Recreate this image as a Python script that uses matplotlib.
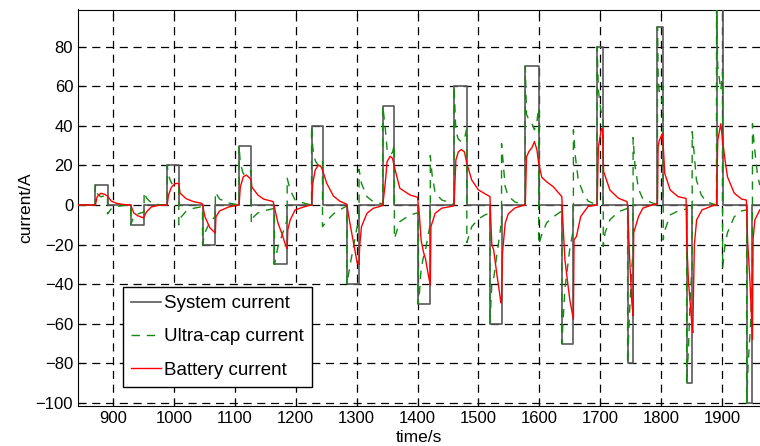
import numpy as np
from matplotlib import pyplot as plt

# load pulses of the system current: start (s), end (s), amplitude (A)
pulse_start = [871, 929, 989, 1047, 1107, 1165, 1226, 1284, 1343, 1401,
               1460, 1519, 1577, 1637, 1695, 1745, 1794, 1842, 1891, 1940.5]
pulse_end = [891, 951, 1008, 1068, 1127, 1186, 1244, 1304, 1362, 1421,
             1481, 1538, 1599, 1656, 1705, 1754, 1803, 1851, 1901, 1950]
pulse_amp = [10, -10, 20, -20, 30, -30, 40, -40, 50, -50,
             60, -60, 70, -70, 80, -80, 90, -90, 100, -100]

# battery current
batt_t = [842, 871, 874, 880, 886, 891, 897, 905, 914, 925,
          929, 934, 941, 950, 955, 963, 975, 989,
          991, 996, 1002, 1008, 1010, 1020, 1032, 1046,
          1047, 1051, 1059, 1068, 1069, 1075, 1090, 1107,
          1109, 1114, 1119, 1125, 1127, 1128, 1138, 1147, 1163,
          1166, 1171, 1177, 1184, 1186, 1187, 1191, 1199, 1215, 1226,
          1228, 1232, 1237, 1241, 1244, 1251, 1262, 1272, 1283,
          1284, 1289, 1295, 1301, 1304, 1305, 1308, 1317, 1327, 1341,
          1343, 1347, 1350, 1355, 1359, 1362, 1371, 1388, 1400,
          1403, 1406, 1410, 1413, 1417, 1421, 1422, 1429, 1440, 1459,
          1460, 1463, 1467, 1472, 1477, 1481, 1489, 1500, 1511, 1519,
          1520, 1522, 1525, 1530, 1537, 1538, 1539.5, 1544, 1549, 1560, 1576,
          1577, 1579, 1583, 1588, 1592, 1596, 1599, 1604, 1612, 1623, 1637,
          1638, 1642, 1650, 1656, 1657, 1661, 1668, 1680, 1694,
          1695, 1697, 1702, 1704, 1705.5, 1716, 1730, 1744,
          1745, 1748, 1752, 1754, 1755, 1763, 1770, 1790,
          1794, 1795, 1797, 1802, 1803.5, 1806, 1815, 1828, 1841,
          1842, 1845, 1851, 1852, 1854.6, 1858.4, 1867, 1888,
          1891, 1893, 1898, 1901, 1905, 1909, 1920, 1932, 1940,
          1942, 1946, 1950, 1951, 1954, 1962]
batt_i = [0, 0, 4.2, 5.9, 5.4, 4.5, 2.0, 0.9, 0.4, 0,
          0, -4.0, -5.5, -6.5, -3.5, -1.0, -0.2, 0,
          5.0, 9.0, 10.8, 10.9, 6, 3.2, 1.7, 0.8,
          0, -6.0, -11.5, -14.2, -6, -3, -1, 0,
          9.0, 14.3, 15.1, 13.4, 12.5, 9, 5, 3.0, 1.7,
          -2.5, -9.2, -14.2, -20.9, -22, -12.5, -7.5, -2.5, -0.8, 0,
          10.9, 17.6, 20.1, 19.6, 17.6, 10.9, 4.5, 2, 0.5,
          0, -9.2, -19.2, -29.3, -30, -20.9, -10.9, -4.2, -1.7, -0.5,
          0, 10.9, 21.8, 24.6, 23.5, 19.3, 8.4, 5.0, 3.9,
          -5, -18, -24, -27, -34, -40.5, -11, -4.2, -1.6, -0.5,
          0, 22.7, 26.8, 28, 26.8, 21, 12.6, 7.6, 5.6, 4.2,
          -5, -20, -22.6, -34.3, -49.4, -47.7, -24.3, -9.2, -4.5, -1.5, 0,
          0, 24.3, 27, 29, 32, 28, 21, 14, 11.7, 9.2, 4.2,
          -4.2, -27.6, -47.7, -57.8, -17.5, -15.9, -5.8, -0.8, 0,
          0, 29.3, 38.5, 38.6, 17, 7.5, 3.4, 1.7,
          -0.8, -25, -49.4, -56, -14, -5.8, -1.6, 0.5,
          0.5, 29.3, 32.6, 36, 30, 15.9, 7.5, 4.2, 3.3,
          -17.6, -39, -62, -64.5, -20, -7.5, -2.5, 0,
          0, 32.6, 41, 32.6, 22.6, 14.2, 6, 3, 2.5,
          -17.6, -39, -68, -17.6, -7.5, -2.5]

# ultra-capacitor current
ucap_t = [842, 871, 871, 874, 880, 886, 891, 891, 897, 905, 914, 925,
          929, 929, 934, 941, 951, 951, 955, 963, 975, 989,
          989, 991, 996, 1002, 1008, 1008, 1012, 1020, 1032, 1047,
          1047, 1051, 1059, 1068, 1068, 1075, 1090, 1107,
          1107, 1109, 1114, 1119, 1125, 1127, 1127, 1131, 1138, 1147, 1165,
          1165, 1171, 1177, 1184, 1186, 1186, 1191, 1199, 1215, 1226,
          1226, 1228, 1232, 1237, 1241, 1244, 1244, 1251, 1262, 1272, 1284,
          1284, 1289, 1295, 1301, 1304, 1304, 1308, 1317, 1327, 1343,
          1343, 1347, 1350, 1355, 1359, 1362, 1362, 1371, 1388, 1401,
          1401, 1403, 1406, 1410, 1413, 1417, 1421, 1421, 1424, 1429, 1440, 1460,
          1460, 1463, 1467, 1472, 1477, 1481, 1481, 1489, 1500, 1511, 1519,
          1519, 1522, 1525, 1530, 1537, 1538, 1538, 1541, 1544, 1549, 1560, 1577,
          1577, 1579, 1583, 1588, 1592, 1596, 1599, 1599, 1604, 1612, 1623, 1637,
          1637, 1642, 1650, 1656, 1656, 1659, 1664, 1672, 1680, 1695,
          1695, 1697, 1701, 1705, 1705, 1708, 1716, 1730, 1745,
          1745, 1748, 1752, 1754, 1754, 1757, 1763, 1770, 1794,
          1794, 1795, 1797, 1802, 1803.5, 1803.5, 1806, 1815, 1828, 1842,
          1842, 1845, 1848, 1851, 1851, 1854.6, 1858, 1866, 1875, 1891,
          1891, 1893, 1898, 1901, 1901, 1905, 1909, 1920, 1932, 1940.5,
          1940.5, 1943, 1947, 1950, 1950, 1953, 1958, 1962]
ucap_i = [0, 0, 10, 5.8, 4.1, 4.6, 5.5, -4.5, -2.0, -0.9, -0.4, 0,
          0, -10, -6, -4.5, -3.5, 6.5, 3.5, 1.0, 0.2, 0,
          20, 15, 11, 9.2, 9.1, -10, -6, -3.2, -1.7, -0.8,
          -20, -14, -8.5, -5.8, 6.5, 3, 1, 0,
          30, 21, 15.7, 14.9, 16.6, 17.5, -9.2, -6, -4, -3.0, -1.7,
          -30, -20.8, -15.8, -9.1, -8, 13.5, 7.5, 2.5, 0.8, 0,
          40, 29, 22.4, 19.9, 20.4, 22.4, -11, -8, -4.5, -2.5, -0.5,
          -40, -30.8, -20.8, -10.7, -10, 18, 10.9, 4.2, 1.7, 0.5,
          50, 39, 28.2, 25.4, 26.5, 30.7, -17, -8.4, -5, -3.9,
          -50, -45, -32, -26, -23, -16, -9.5, 25, 15, 6, 2.5, 0.5,
          60, 37.3, 33.2, 32, 33.2, 39, -19, -11, -7, -5, -4,
          -60, -40, -37.4, -25.7, -10.6, -12.3, 31, 20, 9.2, 4.5, 1.5, 0,
          70, 45.7, 43, 41, 38, 42, 49, -20, -15, -9, -6, -3,
          -70, -42.4, -22.3, -12.2, 38, 25, 12.6, 6, 2, 0,
          80, 58, 48, 42, -21, -14, -7.5, -3.4, -1.7,
          -80, -55, -31, -24, 34, 20, 8, 3, 0,
          90, 65, 57, 52, 60, -17.6, -13, -5, -3, -2,
          -90, -72, -45, -30, 37, 25, 12.6, 5, 1.5, 0,
          100, 70, 58, 67, -32, -20, -14, -6, -3, -2.5,
          -100, -80, -60, -32, 41, 30, 16, 10]

x_min, x_max = 842.5, 1962.4
y_min, y_max = -101.5, 98.7


def system_current():
    t = [x_min]
    i = [0]
    for s, e, a in zip(pulse_start, pulse_end, pulse_amp):
        t += [s, s, e, e]
        i += [0, a, a, 0]
    t.append(x_max)
    i.append(0)
    return np.array(t), np.array(i)


def plot_currents():
    plt.rcParams['font.family'] = ['Liberation Sans', 'DejaVu Sans']
    fig = plt.figure(figsize=(7.6, 4.46), dpi=100)
    ax = fig.add_axes([78 / 760, 40 / 446, 682 / 760, 396.5 / 446])

    sys_t, sys_i = system_current()
    ax.plot(sys_t, sys_i, color='0.35', lw=1.2, label='System current', zorder=3)
    ax.plot(ucap_t, ucap_i, color='#128a12', lw=1.0, dashes=(6, 5),
            label='Ultra-cap current', zorder=4)
    ax.plot(batt_t, batt_i, color='#ff0000', lw=1.0, label='Battery current', zorder=5)

    ax.set_xlim(x_min, x_max)
    ax.set_ylim(y_min, y_max)
    ax.set_xticks(np.arange(900, 2000, 100))
    ax.set_yticks(np.arange(-100, 100, 20))
    ax.tick_params(direction='in', top=True, right=False, labelsize=12, length=5)
    ax.spines['right'].set_visible(False)
    ax.grid(True, color='k', lw=0.9, dashes=(6.5, 4.5))
    ax.set_axisbelow(True)
    ax.set_xlabel('time/s', fontsize=12.5, labelpad=3)
    ax.set_ylabel('current/A', fontsize=12.5, labelpad=2)

    leg = ax.legend(loc='lower left', bbox_to_anchor=(0.066, 0.048), borderaxespad=0,
                    fontsize=13.5, fancybox=False, framealpha=1, edgecolor='k',
                    handlelength=1.6, handletextpad=0.15, labelspacing=0.85,
                    borderpad=0.45)
    leg.get_frame().set_linewidth(1.0)

    fig.savefig('out.png', dpi=100)
    plt.close(fig)


plot_currents()
